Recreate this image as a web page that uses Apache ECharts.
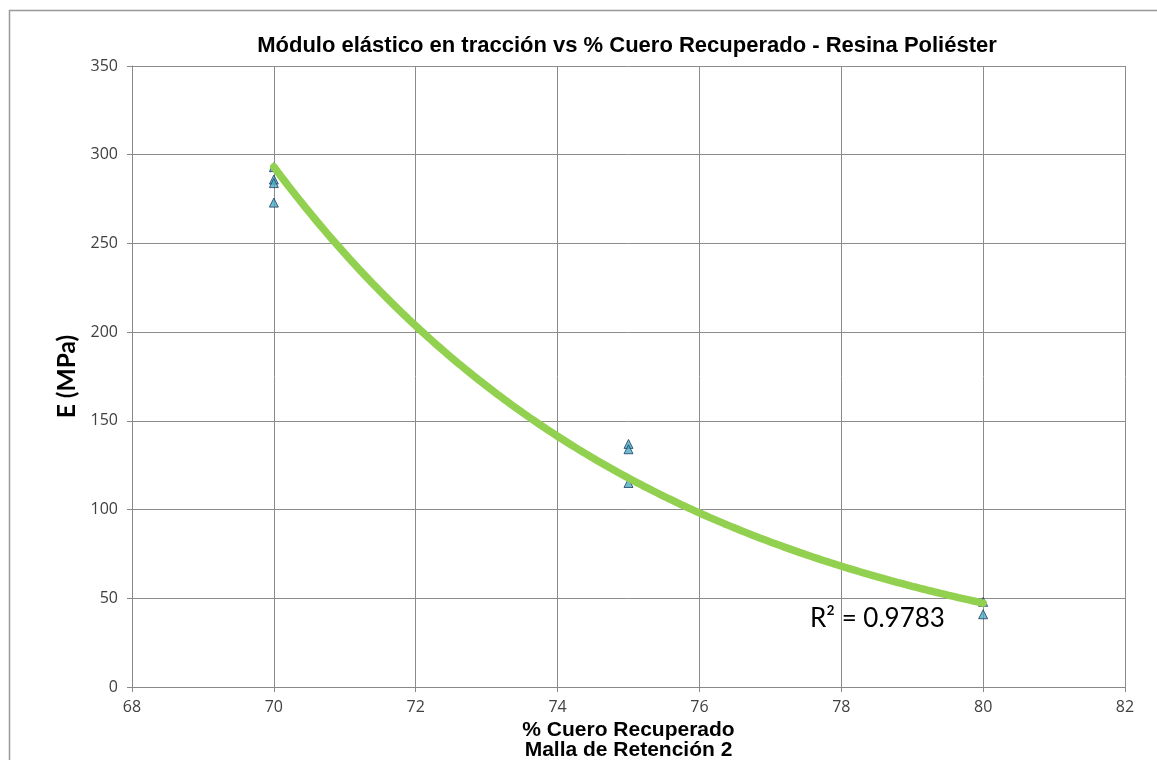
<!DOCTYPE html>
<html><head><meta charset="utf-8">
<script src="https://cdn.jsdelivr.net/npm/echarts@6/dist/echarts.min.js"></script>
<style>html,body{margin:0;padding:0;background:#fff}#c{width:1157px;height:760px}</style>
</head><body><div id="c"></div>
<script>
// Data
const xValues = [70, 70, 70, 70, 75, 75, 75, 80, 80];
const eValues = [293, 286, 284, 273, 137, 134, 115, 48, 41];
const xTicks = { min: 68, max: 82, interval: 2 };
const yTicks = { min: 0, max: 350, interval: 50 };
const r2Text = 'R² = 0.9783';
const titleText = 'Módulo elástico en tracción vs % Cuero Recuperado - Resina Poliéster';
const xName = '% Cuero Recuperado\nMalla de Retención 2';
const yName = 'E (MPa)';

// exponential trend line fitted (least squares on ln y) from the data
const n = xValues.length;
const lnY = eValues.map(v => Math.log(v));
const mx = xValues.reduce((a, b) => a + b, 0) / n;
const my = lnY.reduce((a, b) => a + b, 0) / n;
let sxx = 0, sxy = 0;
for (let i = 0; i < n; i++) { sxx += (xValues[i] - mx) ** 2; sxy += (xValues[i] - mx) * (lnY[i] - my); }
const b = sxy / sxx, lnA = my - b * mx;
const xMinD = Math.min(...xValues), xMaxD = Math.max(...xValues);
const trend = [];
for (let k = 0; k <= 200; k++) {
  const x = xMinD + (xMaxD - xMinD) * k / 200;
  trend.push([x, Math.exp(lnA + b * x)]);
}
const points = xValues.map((x, i) => [x, eValues[i]]);

const chart = echarts.init(document.getElementById('c'));
chart.setOption({
  animation: false,
  backgroundColor: '#fff',
  title: {
    text: titleText, left: 622, top: 30, textAlign: 'center',
    textStyle: { fontFamily: 'Liberation Sans', fontSize: 22, fontWeight: 'bold', color: '#000' }
  },
  grid: { left: 132, right: 32, top: 66, bottom: 73, outerBoundsMode: 'none', containLabel: false },
  xAxis: {
    type: 'value', min: xTicks.min, max: xTicks.max, interval: xTicks.interval,
    name: xName, nameLocation: 'middle', nameGap: 20,
    nameTextStyle: { fontFamily: 'Liberation Sans', fontSize: 21, fontWeight: 'bold', color: '#000', lineHeight: 20, verticalAlign: 'top' },
    axisLine: { show: true, lineStyle: { color: '#888', width: 1 } },
    axisTick: { show: true, length: 5, lineStyle: { color: '#888' } },
    axisLabel: { fontFamily: 'Open Sans', fontSize: 16, color: '#404040', margin: 12 },
    splitLine: { show: true, lineStyle: { color: '#8c8c8c', width: 1 } }
  },
  yAxis: {
    type: 'value', min: yTicks.min, max: yTicks.max, interval: yTicks.interval,
    name: yName, nameLocation: 'middle', nameGap: 40, nameRotate: 90,
    nameTextStyle: { fontFamily: 'Lato', fontSize: 24.5, fontWeight: 'bold', color: '#000' },
    axisLine: { show: true, lineStyle: { color: '#888', width: 1 } },
    axisTick: { show: true, length: 5, lineStyle: { color: '#888' } },
    axisLabel: { fontFamily: 'Open Sans', fontSize: 16, color: '#404040', margin: 14 },
    splitLine: { show: true, lineStyle: { color: '#8c8c8c', width: 1 } }
  },
  graphic: [
    { type: 'rect', left: 7, top: 8, shape: { width: 1200, height: 800 }, style: { fill: 'none', stroke: '#999', lineWidth: 1.5 }, silent: true, z: -1 },
    { type: 'text', left: 810, top: 606, style: { text: r2Text, fontFamily: 'Lato', fontSize: 26, fill: '#000' }, z: 10 }
  ],
  series: [
    {
      type: 'scatter', data: points, symbol: 'triangle', symbolSize: 9, z: 2,
      itemStyle: { color: '#4BACC6', borderColor: '#1F3F5F', borderWidth: 1 }
    },
    {
      type: 'line', data: trend, showSymbol: false, smooth: false, z: 3,
      lineStyle: { color: '#92D050', width: 7.5, cap: 'round' }
    }
  ]
});
</script></body></html>
